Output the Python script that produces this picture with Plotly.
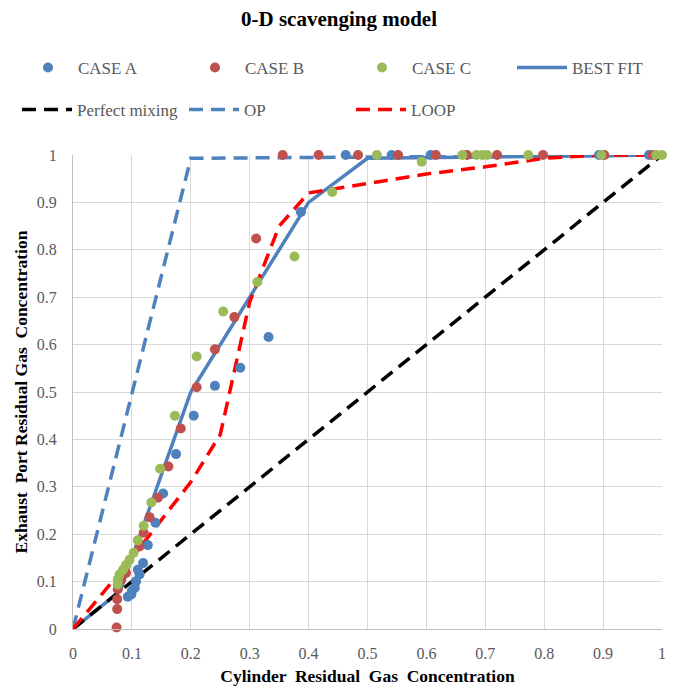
import plotly.graph_objects as go

# ---- data -------------------------------------------------------------
case_a_x = [0.463, 0.541, 0.607, 0.893, 0.978,
            0.387, 0.332, 0.284, 0.241, 0.205, 0.175, 0.153, 0.140, 0.127,
            0.119, 0.113, 0.110, 0.107, 0.105, 0.100, 0.099, 0.093]
case_a_y = [1.000, 1.000, 1.000, 1.000, 1.000,
            0.880, 0.616, 0.551, 0.513, 0.450, 0.369, 0.286, 0.224, 0.177,
            0.139, 0.115, 0.125, 0.101, 0.087, 0.080, 0.073, 0.068]

case_b_x = [0.356, 0.417, 0.484, 0.552, 0.616, 0.669, 0.720, 0.798, 0.902, 0.984,
            0.311, 0.274, 0.241, 0.210, 0.183, 0.162, 0.144, 0.130, 0.120, 0.113,
            0.090, 0.082, 0.076, 0.075, 0.075, 0.074]
case_b_y = [1.000, 1.000, 1.000, 1.000, 1.000, 1.000, 1.000, 1.000, 1.000, 1.000,
            0.824, 0.658, 0.590, 0.510, 0.423, 0.343, 0.277, 0.236, 0.203, 0.174,
            0.118, 0.104, 0.084, 0.063, 0.042, 0.003]

case_c_x = [0.516, 0.592, 0.661, 0.685, 0.695, 0.703, 0.773, 0.897, 0.990, 1.000,
            0.440, 0.376, 0.313, 0.255, 0.210, 0.173, 0.148, 0.133, 0.120, 0.110,
            0.103, 0.096, 0.090, 0.085, 0.079, 0.076, 0.076]
case_c_y = [1.000, 0.986, 1.000, 1.000, 1.000, 1.000, 1.000, 1.000, 1.000, 1.000,
            0.922, 0.786, 0.732, 0.670, 0.575, 0.450, 0.338, 0.267, 0.218, 0.187,
            0.161, 0.146, 0.135, 0.125, 0.115, 0.104, 0.094]

best_fit_x = [0, 0.08, 0.2, 0.4, 0.5, 1.0]
best_fit_y = [0, 0.08, 0.5, 0.9, 0.993, 1.0]

perfect_mixing_x = [0, 1]
perfect_mixing_y = [0, 1]

op_x = [0, 0.2, 1.0]
op_y = [0, 0.993, 1.0]

loop_x = [0, 0.1, 0.2, 0.25, 0.3, 0.35, 0.4, 0.5, 0.6, 0.7, 0.8, 0.9, 1.0]
loop_y = [0, 0.15, 0.31, 0.41, 0.69, 0.85, 0.92, 0.94, 0.96, 0.975, 0.993, 1.0, 1.0]

tick_vals = [0, 0.1, 0.2, 0.3, 0.4, 0.5, 0.6, 0.7, 0.8, 0.9, 1]
tick_text = ["0", "0.1", "0.2", "0.3", "0.4", "0.5", "0.6", "0.7", "0.8", "0.9", "1"]

# ---- styling ----------------------------------------------------------
SERIF = "Liberation Serif, Times New Roman, serif"
BLUE = "#4f81bd"
RED = "#c0504d"
GREEN = "#9bbb59"
GREY_TXT = "#595959"
DASH = "14px,8px"

fig = go.Figure()

# reference lines first so the markers sit on top
fig.add_trace(go.Scatter(x=best_fit_x, y=best_fit_y, mode="lines", name="BEST FIT",
                         line=dict(color=BLUE, width=3.5), legend="legend3"))
fig.add_trace(go.Scatter(x=perfect_mixing_x, y=perfect_mixing_y, mode="lines",
                         name="Perfect mixing",
                         line=dict(color="black", width=3.5, dash=DASH),
                         legend="legend2", legendrank=1))
fig.add_trace(go.Scatter(x=op_x, y=op_y, mode="lines", name="OP",
                         line=dict(color=BLUE, width=3.5, dash=DASH),
                         legend="legend2", legendrank=2))
fig.add_trace(go.Scatter(x=loop_x, y=loop_y, mode="lines", name="LOOP",
                         line=dict(color="#ff0000", width=3.5, dash=DASH),
                         legend="legend2", legendrank=3))

for name, xs, ys, col, rank in [("CASE A", case_a_x, case_a_y, BLUE, 1),
                                ("CASE B", case_b_x, case_b_y, RED, 2),
                                ("CASE C", case_c_x, case_c_y, GREEN, 3)]:
    fig.add_trace(go.Scatter(x=xs, y=ys, mode="markers", name=name,
                             marker=dict(color=col, size=10, line=dict(width=0)),
                             cliponaxis=False, legend="legend", legendrank=rank))

legend_common = dict(orientation="h", xref="container", yref="container",
                     xanchor="left", yanchor="middle", entrywidth=102,
                     entrywidthmode="pixels", itemwidth=50,
                     font=dict(family=SERIF, size=17, color=GREY_TXT),
                     bgcolor="rgba(0,0,0,0)", traceorder="normal")

fig.update_layout(
    width=678, height=694,
    margin=dict(l=73, r=12, t=155, b=57),
    paper_bgcolor="white", plot_bgcolor="white",
    title=dict(text="<b>0-D scavenging model</b>", x=0.5, xref="container",
               y=1 - 19 / 694, yref="container", yanchor="middle",
               font=dict(family=SERIF, size=21, color="black")),
    legend=dict(legend_common, x=18 / 678, y=1 - 68 / 694),
    legend3=dict(legend_common, x=512 / 678, y=1 - 68 / 694),
    legend2=dict(legend_common, x=17 / 678, y=1 - 110 / 694),
    xaxis=dict(range=[0, 1], tickvals=tick_vals, ticktext=tick_text,
               showgrid=True, gridcolor="#d9d9d9", gridwidth=1,
               zeroline=False, showline=True, linecolor="#bfbfbf", linewidth=1,
               ticks="", ticklabelstandoff=10,
               tickfont=dict(family=SERIF, size=16, color=GREY_TXT),
               title=dict(text="<b>Cylinder  Residual  Gas  Concentration</b>",
                          font=dict(family=SERIF, size=17.5, color="black"),
                          standoff=8)),
    yaxis=dict(range=[0, 1], tickvals=tick_vals, ticktext=tick_text,
               showgrid=True, gridcolor="#d9d9d9", gridwidth=1,
               zeroline=False, showline=True, linecolor="#bfbfbf", linewidth=1,
               ticks="", ticklabelstandoff=12,
               tickfont=dict(family=SERIF, size=16, color=GREY_TXT),
               title=dict(text="<b>Exhaust  Port Residual Gas  Concentration</b>",
                          font=dict(family=SERIF, size=17.5, color="black"),
                          standoff=4)),
)

fig.write_html("out.html")
